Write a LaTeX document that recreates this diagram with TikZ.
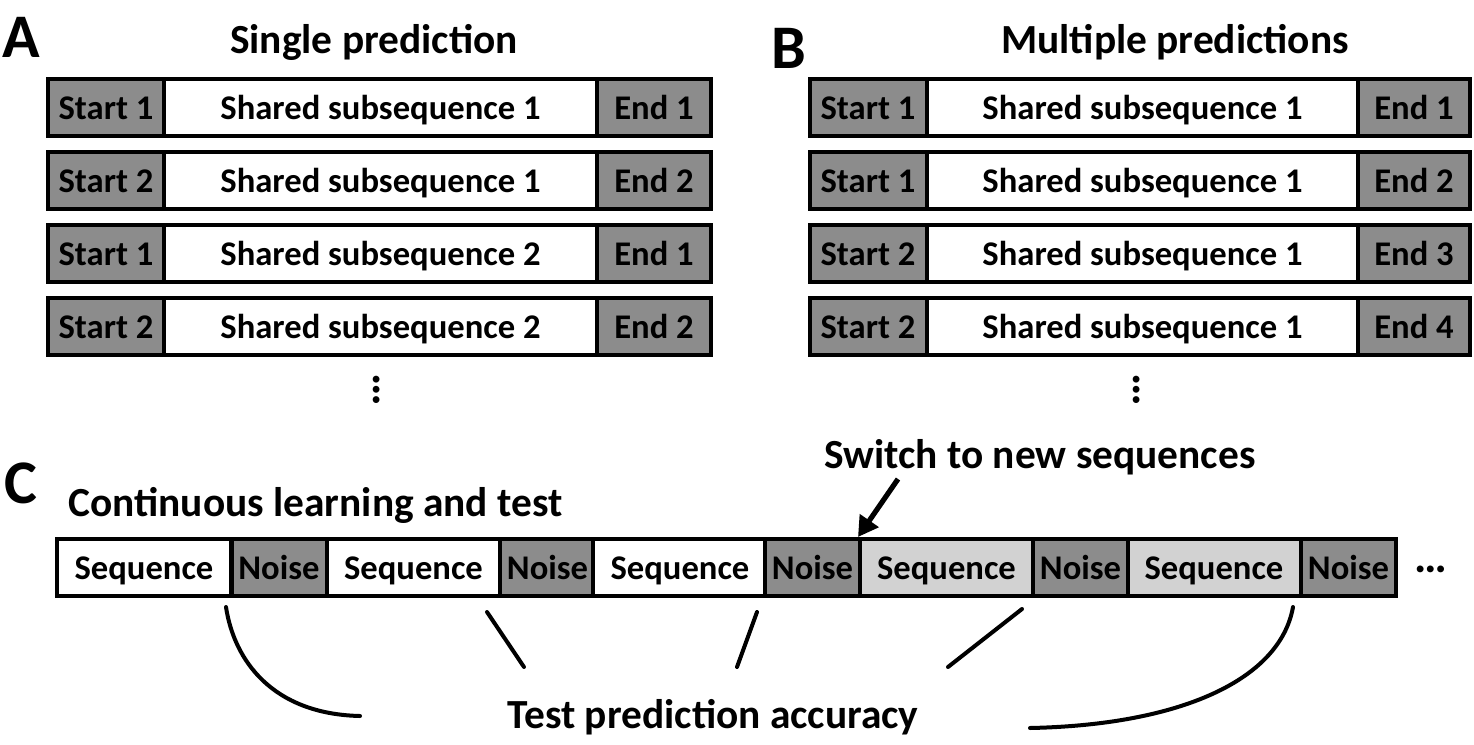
\documentclass[tikz,border=0pt]{standalone}
\usepackage{fontspec}
\setmainfont{Carlito}
\usetikzlibrary{arrows.meta}
\definecolor{darkbox}{HTML}{8C8C8C}
\definecolor{lightbox}{HTML}{D2D2D2}
\begin{document}
\begin{tikzpicture}[x=0.5pt,y=-0.5pt,
  cell/.style={draw=black,line width=2pt,minimum height=28.5pt,inner sep=0pt,
    text height=12.3pt,text depth=0pt,
    font=\fontsize{17.3}{20}\selectfont\bfseries,anchor=center},
  startbox/.style={cell,fill=darkbox,minimum width=58pt},
  sharedbox/.style={cell,fill=white,minimum width=216.5pt},
  endbox/.style={cell,fill=darkbox,minimum width=57pt},
  bstartbox/.style={cell,fill=darkbox,minimum width=58.5pt},
  bsharedbox/.style={cell,fill=white,minimum width=215.5pt},
  bendbox/.style={cell,fill=darkbox,minimum width=56pt},
  seqbox/.style={cell,fill=white,minimum width=86.75pt},
  lseqbox/.style={cell,fill=lightbox,minimum width=86.5pt},
  noisebox/.style={cell,fill=darkbox,minimum width=47.5pt},
  title/.style={font=\fontsize{20.7}{24}\selectfont\bfseries,inner sep=0pt},
  panel/.style={font=\fontsize{31}{36}\selectfont\bfseries,inner sep=0pt},
  ellip/.style={font=\fontsize{23}{26}\selectfont\bfseries,inner sep=0pt},
  curve/.style={line width=2pt,line cap=round},
]
\useasboundingbox (0,0) rectangle (1474,745);

% Panel labels
\node[panel] (labA) at (21,37) {A};
\node[panel] (labB) at (789,48) {B};
\node[panel] (labC) at (21,483) {C};

% Titles
\node[title] (titA) at (374,42) {Single prediction};
\node[title] (titB) at (1175,42) {Multiple predictions};

% Panel A rows
\foreach \r/\s/\m/\e in {1/1/1/1,2/2/1/2,3/1/2/1,4/2/2/2}{
  \pgfmathsetmacro{\yy}{107.5+73*(\r-1)}
  \node[startbox] (as\r) at (106,\yy) {Start \s};
  \node[sharedbox] (am\r) at (380.5,\yy) {Shared subsequence \m};
  \node[endbox] (ae\r) at (654,\yy) {End \e};
}
\node[ellip,rotate=-90] (dotsA) at (377,389.5) {…};

% Panel B rows
\foreach \r/\s/\e in {1/1/1,2/1/2,3/2/3,4/2/4}{
  \pgfmathsetmacro{\yy}{107+73*(\r-1)}
  \node[bstartbox] (bs\r) at (868,\yy) {Start \s};
  \node[bsharedbox] (bm\r) at (1142.5,\yy) {Shared subsequence 1};
  \node[bendbox] (be\r) at (1414,\yy) {End \e};
}
\node[ellip,rotate=-90] (dotsB) at (1137,389.5) {…};

% Panel C
\node[title,anchor=west] (contit) at (68,505) {Continuous learning and test};
\node[title] (switch) at (1040,457) {Switch to new sequences};

\node[seqbox] (s1) at (144,567.5) {Sequence};
\node[noisebox] (n1) at (279,567.5) {Noise};
\node[seqbox] (s2) at (413.5,567.5) {Sequence};
\node[noisebox] (n2) at (547.5,567.5) {Noise};
\node[seqbox] (s3) at (680,567.5) {Sequence};
\node[noisebox] (n3) at (812.5,567.5) {Noise};
\node[lseqbox] (s4) at (946.5,567.5) {Sequence};
\node[noisebox] (n4) at (1080.5,567.5) {Noise};
\node[lseqbox] (s5) at (1214,567.5) {Sequence};
\node[noisebox] (n5) at (1348.5,567.5) {Noise};
\node[ellip,anchor=base] (cdots) at (1431,572) {…};

% Arrow
\coordinate (arrtail) at (898,479);
\draw[line width=2.6pt,-{Triangle[length=10pt,width=11pt]}] (arrtail) -- (s4.north west);

% Test label
\node[title] (test) at (713,717) {Test prediction accuracy};

% Connectors
\coordinate (c1a) at (226,607);
\coordinate (c1b) at (360,716);
\coordinate (c2a) at (487,612);
\coordinate (c2b) at (524,667);
\coordinate (c3a) at (757,612);
\coordinate (c3b) at (737,667);
\coordinate (c4a) at (1022,609);
\coordinate (c4b) at (948,667);
\coordinate (c5a) at (1293,607);
\coordinate (c5b) at (1030,728);
\draw[curve] (c1a) .. controls (234,660) and (272,714) .. (c1b);
\draw[curve] (c2a) -- (c2b);
\draw[curve] (c3a) -- (c3b);
\draw[curve] (c4a) -- (c4b);
\draw[curve] (c5a) .. controls (1280,680) and (1180,725) .. (c5b);
\end{tikzpicture}
\end{document}
